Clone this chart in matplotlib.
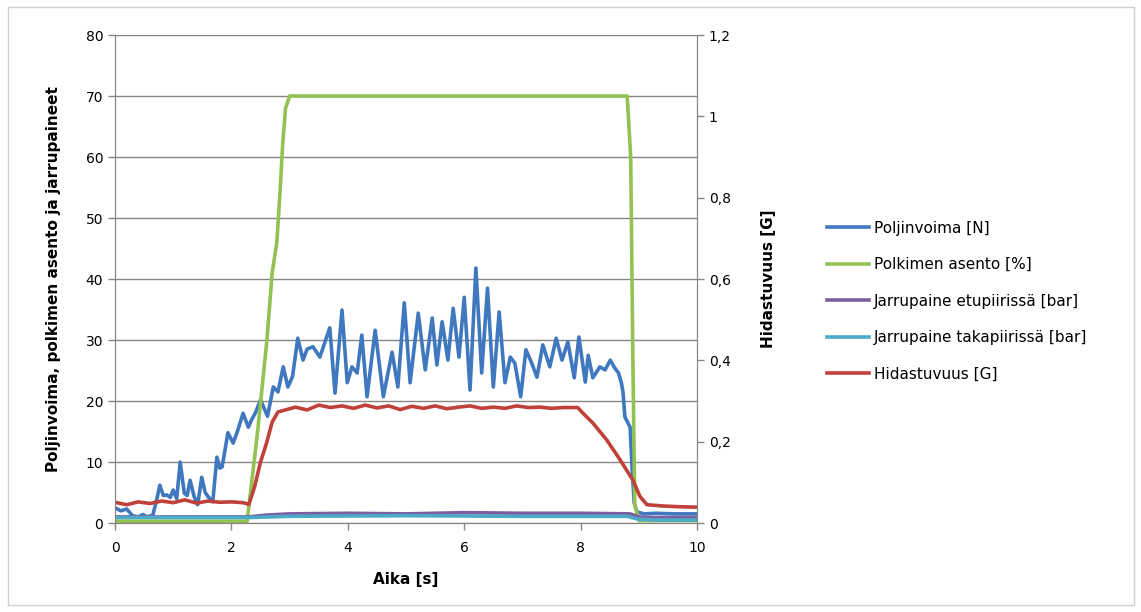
import matplotlib
matplotlib.use('Agg')
import matplotlib.pyplot as plt
from matplotlib.patches import Rectangle

# Poljinvoima [N]
aika_voima = [0, 0.1, 0.2, 0.3, 0.4, 0.48, 0.55, 0.65, 0.72, 0.77, 0.83, 0.89, 0.95, 1.0, 1.06,
              1.12, 1.19, 1.24, 1.29, 1.36, 1.42, 1.49, 1.55, 1.60, 1.68, 1.75, 1.80, 1.84, 1.94,
              2.03, 2.11, 2.20, 2.29, 2.35, 2.41, 2.50, 2.62, 2.72, 2.80, 2.89, 2.97, 3.05, 3.14,
              3.23, 3.30, 3.40, 3.52, 3.69, 3.78, 3.90, 3.99, 4.07, 4.16, 4.24, 4.33, 4.47, 4.61,
              4.76, 4.86, 4.97, 5.07, 5.21, 5.33, 5.45, 5.53, 5.62, 5.72, 5.81, 5.91, 6.00, 6.10,
              6.20, 6.30, 6.40, 6.50, 6.60, 6.70, 6.79, 6.87, 6.97, 7.06, 7.16, 7.25, 7.35, 7.47,
              7.58, 7.68, 7.78, 7.89, 7.97, 8.08, 8.13, 8.21, 8.33, 8.42, 8.51, 8.58, 8.65, 8.70,
              8.73, 8.76, 8.85, 8.88, 8.92, 8.97, 9.1, 9.3, 9.6, 10.0]
poljinvoima = [2.5, 2.0, 2.3, 1.2, 1.0, 1.4, 1.0, 1.3, 4.0, 6.2, 4.5, 4.6, 4.2, 5.4, 4.0,
               10.0, 4.9, 4.5, 7.0, 4.3, 3.0, 7.5, 5.0, 4.3, 3.5, 10.8, 9.0, 9.2, 14.8,
               13.1, 15.2, 18.0, 15.7, 17.0, 18.0, 20.2, 17.5, 22.3, 21.5, 25.6, 22.3, 24.0, 30.3,
               26.7, 28.5, 28.9, 27.2, 32.0, 21.3, 34.9, 23.0, 25.6, 24.6, 30.8, 20.7, 31.6, 20.7,
               28.0, 22.3, 36.1, 23.0, 34.4, 25.1, 33.6, 25.9, 33.0, 26.7, 35.2, 27.2, 37.0, 21.8,
               41.8, 24.6, 38.5, 22.3, 34.6, 23.0, 27.2, 26.2, 20.7, 28.4, 26.2, 23.9, 29.2, 25.6,
               30.3, 26.7, 29.7, 23.8, 30.5, 23.1, 27.5, 23.8, 25.6, 25.1, 26.7, 25.5, 24.6, 23.0,
               21.3, 17.4, 15.7, 9.8, 3.3, 1.8, 1.5, 1.6, 1.5, 1.5]

# Polkimen asento [%]
aika_asento = [0, 2.27, 2.45, 2.61, 2.70, 2.78, 2.84, 2.88, 2.93, 3.0, 8.80, 8.86, 8.90, 8.93, 9.0, 10.0]
asento = [0.3, 0.3, 15, 30, 41, 46, 55, 62, 68, 70, 70, 60, 25, 3, 0.4, 0.4]

# Jarrupaine etupiirissä [bar]
aika_etu = [0, 2.3, 2.6, 3.0, 4.0, 5.0, 6.0, 7.0, 8.0, 8.85, 9.0, 9.2, 10.0]
etupaine = [1.0, 1.0, 1.3, 1.5, 1.6, 1.5, 1.7, 1.6, 1.6, 1.5, 1.0, 0.9, 0.9]

# Jarrupaine takapiirissä [bar]
aika_taka = [0, 2.3, 3.0, 5.0, 7.0, 8.8, 9.0, 9.3, 10.0]
takapaine = [0.9, 0.9, 1.1, 1.2, 1.1, 1.1, 0.6, 0.5, 0.5]

# Hidastuvuus [G]
aika_hid = [0, 0.2, 0.4, 0.6, 0.8, 1.0, 1.2, 1.4, 1.6, 1.8, 2.0, 2.2, 2.3, 2.4, 2.5, 2.6, 2.7,
            2.8, 2.95, 3.1, 3.3, 3.5, 3.7, 3.9, 4.1, 4.3, 4.5, 4.7, 4.9, 5.1, 5.3, 5.5, 5.7, 5.9,
            6.1, 6.3, 6.5, 6.7, 6.9, 7.1, 7.3, 7.5, 7.7, 7.95, 8.04, 8.21, 8.45, 8.68, 8.9, 9.02,
            9.14, 9.4, 9.7, 10.0]
hidastuvuus = [0.051, 0.045, 0.052, 0.048, 0.054, 0.050, 0.057, 0.049, 0.054, 0.051, 0.052, 0.050,
               0.046, 0.090, 0.150, 0.195, 0.248, 0.273, 0.279, 0.285, 0.278, 0.290, 0.284, 0.288,
               0.282, 0.290, 0.283, 0.288, 0.279, 0.287, 0.282, 0.288, 0.281, 0.285, 0.288, 0.282,
               0.285, 0.282, 0.288, 0.284, 0.285, 0.282, 0.284, 0.284, 0.270, 0.246, 0.204, 0.155,
               0.105, 0.065, 0.045, 0.042, 0.040, 0.039]

vasen_ticks = [0, 10, 20, 30, 40, 50, 60, 70, 80]
oikea_ticks = [0, 0.2, 0.4, 0.6, 0.8, 1.0, 1.2]
oikea_labels = ['0', '0,2', '0,4', '0,6', '0,8', '1', '1,2']
x_ticks = [0, 2, 4, 6, 8, 10]

sininen = '#3f78be'
vihrea = '#93c152'
violetti = '#7d5fa0'
syaani = '#4aaac8'
punainen = '#c0413a'
harmaa = '#868686'

fig = plt.figure(figsize=(11.41, 6.12), dpi=100)
fig.patches.append(Rectangle((0.007, 0.011), 0.987, 0.977, transform=fig.transFigure,
                             fill=False, edgecolor='#d0d0d0', linewidth=1))

ax = fig.add_axes([0.1008, 0.1454, 0.5101, 0.7974])
ax2 = ax.twinx()

lw = 2.6
l1, = ax.plot(aika_voima, poljinvoima, color=sininen, lw=lw, label='Poljinvoima [N]')
l2, = ax.plot(aika_asento, asento, color=vihrea, lw=lw, label='Polkimen asento [%]')
l3, = ax.plot(aika_etu, etupaine, color=violetti, lw=lw, label='Jarrupaine etupiirissä [bar]')
l4, = ax.plot(aika_taka, takapaine, color=syaani, lw=lw, label='Jarrupaine takapiirissä [bar]')
l5, = ax2.plot(aika_hid, hidastuvuus, color=punainen, lw=lw, label='Hidastuvuus [G]')

ax.set_xlim(0, 10)
ax.set_ylim(0, 80)
ax2.set_ylim(0, 1.2)
ax.set_xticks(x_ticks)
ax.set_yticks(vasen_ticks)
ax2.set_yticks(oikea_ticks)
ax2.set_yticklabels(oikea_labels)

ax.yaxis.grid(True, color=harmaa, linewidth=1)
ax.set_axisbelow(True)

for a in (ax, ax2):
    for s in a.spines.values():
        s.set_color(harmaa)
    a.spines['top'].set_visible(False)
    a.tick_params(colors=harmaa, labelcolor='black', labelsize=10, length=5, width=1)
ax.tick_params(axis='x', pad=8)

ax.set_xlabel('Aika [s]', fontsize=11, fontweight='bold', labelpad=12)
ax.set_ylabel('Poljinvoima, polkimen asento ja jarrupaineet', fontsize=11, fontweight='bold', labelpad=18)
ax2.set_ylabel('Hidastuvuus [G]', fontsize=11, fontweight='bold', labelpad=22)

fig.legend(handles=[l1, l2, l3, l4, l5], loc='center left', bbox_to_anchor=(0.713, 0.508),
           frameon=False, fontsize=11, handlelength=2.75, handletextpad=0.3, labelspacing=1.4)

fig.savefig('out.png', dpi=100)
